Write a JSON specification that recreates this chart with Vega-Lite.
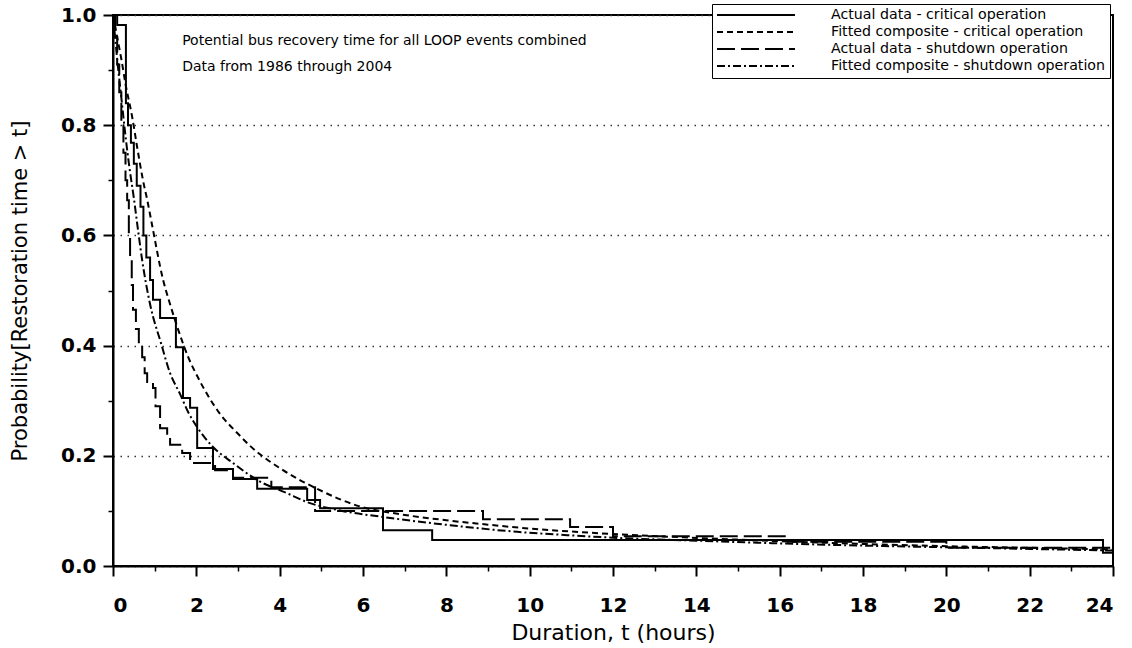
{
  "$schema": "https://vega.github.io/schema/vega-lite/v6.json",
  "width": 1000,
  "height": 551,
  "autosize": {"type": "none"},
  "padding": {"left": 113, "top": 15, "right": 19, "bottom": 82},
  "background": "white",
  "config": {
    "font": "DejaVu Sans",
    "view": {"stroke": "black", "strokeWidth": 2},
    "axis": {
      "domainColor": "black", "domainWidth": 2, "tickColor": "black", "tickWidth": 2,
      "labelColor": "black", "titleColor": "black", "labelFont": "DejaVu Sans", "titleFont": "DejaVu Sans"
    }
  },
  "datasets": {
    "actual": [
      {"series": "Actual data - critical operation", "t": 0, "p": 1.0},
      {"series": "Actual data - critical operation", "t": 0.1, "p": 0.982},
      {"series": "Actual data - critical operation", "t": 0.31, "p": 0.84},
      {"series": "Actual data - critical operation", "t": 0.36, "p": 0.80},
      {"series": "Actual data - critical operation", "t": 0.43, "p": 0.768},
      {"series": "Actual data - critical operation", "t": 0.5, "p": 0.73},
      {"series": "Actual data - critical operation", "t": 0.57, "p": 0.69},
      {"series": "Actual data - critical operation", "t": 0.66, "p": 0.652},
      {"series": "Actual data - critical operation", "t": 0.73, "p": 0.60},
      {"series": "Actual data - critical operation", "t": 0.8, "p": 0.56},
      {"series": "Actual data - critical operation", "t": 0.89, "p": 0.519},
      {"series": "Actual data - critical operation", "t": 0.96, "p": 0.483},
      {"series": "Actual data - critical operation", "t": 1.13, "p": 0.45},
      {"series": "Actual data - critical operation", "t": 1.51, "p": 0.397},
      {"series": "Actual data - critical operation", "t": 1.68, "p": 0.305},
      {"series": "Actual data - critical operation", "t": 1.85, "p": 0.287},
      {"series": "Actual data - critical operation", "t": 2.02, "p": 0.214},
      {"series": "Actual data - critical operation", "t": 2.4, "p": 0.176},
      {"series": "Actual data - critical operation", "t": 2.88, "p": 0.158},
      {"series": "Actual data - critical operation", "t": 3.46, "p": 0.14},
      {"series": "Actual data - critical operation", "t": 4.66, "p": 0.12},
      {"series": "Actual data - critical operation", "t": 4.97, "p": 0.105},
      {"series": "Actual data - critical operation", "t": 6.48, "p": 0.065},
      {"series": "Actual data - critical operation", "t": 7.66, "p": 0.047},
      {"series": "Actual data - critical operation", "t": 23.76, "p": 0.024},
      {"series": "Actual data - critical operation", "t": 24, "p": 0.024},
      {"series": "Actual data - shutdown operation", "t": 0, "p": 1.0},
      {"series": "Actual data - shutdown operation", "t": 0.05, "p": 0.96},
      {"series": "Actual data - shutdown operation", "t": 0.1, "p": 0.91},
      {"series": "Actual data - shutdown operation", "t": 0.15, "p": 0.86},
      {"series": "Actual data - shutdown operation", "t": 0.2, "p": 0.80},
      {"series": "Actual data - shutdown operation", "t": 0.25, "p": 0.75},
      {"series": "Actual data - shutdown operation", "t": 0.3, "p": 0.70},
      {"series": "Actual data - shutdown operation", "t": 0.34, "p": 0.664},
      {"series": "Actual data - shutdown operation", "t": 0.38, "p": 0.60},
      {"series": "Actual data - shutdown operation", "t": 0.41, "p": 0.555},
      {"series": "Actual data - shutdown operation", "t": 0.45, "p": 0.51},
      {"series": "Actual data - shutdown operation", "t": 0.48, "p": 0.465},
      {"series": "Actual data - shutdown operation", "t": 0.55, "p": 0.43},
      {"series": "Actual data - shutdown operation", "t": 0.62, "p": 0.40},
      {"series": "Actual data - shutdown operation", "t": 0.7, "p": 0.379},
      {"series": "Actual data - shutdown operation", "t": 0.76, "p": 0.35},
      {"series": "Actual data - shutdown operation", "t": 0.82, "p": 0.334},
      {"series": "Actual data - shutdown operation", "t": 0.96, "p": 0.323},
      {"series": "Actual data - shutdown operation", "t": 1.02, "p": 0.29},
      {"series": "Actual data - shutdown operation", "t": 1.13, "p": 0.25},
      {"series": "Actual data - shutdown operation", "t": 1.3, "p": 0.235},
      {"series": "Actual data - shutdown operation", "t": 1.37, "p": 0.22},
      {"series": "Actual data - shutdown operation", "t": 1.66, "p": 0.205},
      {"series": "Actual data - shutdown operation", "t": 1.85, "p": 0.187},
      {"series": "Actual data - shutdown operation", "t": 2.45, "p": 0.174},
      {"series": "Actual data - shutdown operation", "t": 2.88, "p": 0.16},
      {"series": "Actual data - shutdown operation", "t": 3.8, "p": 0.143},
      {"series": "Actual data - shutdown operation", "t": 4.85, "p": 0.10},
      {"series": "Actual data - shutdown operation", "t": 8.88, "p": 0.085},
      {"series": "Actual data - shutdown operation", "t": 10.97, "p": 0.071},
      {"series": "Actual data - shutdown operation", "t": 12.0, "p": 0.054},
      {"series": "Actual data - shutdown operation", "t": 16.2, "p": 0.044},
      {"series": "Actual data - shutdown operation", "t": 20.0, "p": 0.033},
      {"series": "Actual data - shutdown operation", "t": 24, "p": 0.033}
    ],
    "fitted": [
      {"series": "Fitted composite - critical operation", "t": 0, "p": 1.0},
      {"series": "Fitted composite - critical operation", "t": 0.1, "p": 0.96},
      {"series": "Fitted composite - critical operation", "t": 0.2, "p": 0.92},
      {"series": "Fitted composite - critical operation", "t": 0.3, "p": 0.875},
      {"series": "Fitted composite - critical operation", "t": 0.46, "p": 0.815},
      {"series": "Fitted composite - critical operation", "t": 0.58, "p": 0.76},
      {"series": "Fitted composite - critical operation", "t": 0.72, "p": 0.70},
      {"series": "Fitted composite - critical operation", "t": 0.82, "p": 0.665},
      {"series": "Fitted composite - critical operation", "t": 0.94, "p": 0.618},
      {"series": "Fitted composite - critical operation", "t": 1.2, "p": 0.52},
      {"series": "Fitted composite - critical operation", "t": 1.37, "p": 0.475},
      {"series": "Fitted composite - critical operation", "t": 1.56, "p": 0.43},
      {"series": "Fitted composite - critical operation", "t": 1.8, "p": 0.38},
      {"series": "Fitted composite - critical operation", "t": 2.04, "p": 0.342},
      {"series": "Fitted composite - critical operation", "t": 2.55, "p": 0.278},
      {"series": "Fitted composite - critical operation", "t": 3.0, "p": 0.24},
      {"series": "Fitted composite - critical operation", "t": 3.29, "p": 0.218},
      {"series": "Fitted composite - critical operation", "t": 4.08, "p": 0.174},
      {"series": "Fitted composite - critical operation", "t": 4.9, "p": 0.14},
      {"series": "Fitted composite - critical operation", "t": 5.93, "p": 0.108},
      {"series": "Fitted composite - critical operation", "t": 6.89, "p": 0.094},
      {"series": "Fitted composite - critical operation", "t": 8, "p": 0.083},
      {"series": "Fitted composite - critical operation", "t": 9, "p": 0.075},
      {"series": "Fitted composite - critical operation", "t": 10, "p": 0.068},
      {"series": "Fitted composite - critical operation", "t": 12, "p": 0.058},
      {"series": "Fitted composite - critical operation", "t": 14, "p": 0.051},
      {"series": "Fitted composite - critical operation", "t": 16, "p": 0.045},
      {"series": "Fitted composite - critical operation", "t": 18, "p": 0.040},
      {"series": "Fitted composite - critical operation", "t": 20, "p": 0.036},
      {"series": "Fitted composite - critical operation", "t": 22, "p": 0.033},
      {"series": "Fitted composite - critical operation", "t": 24, "p": 0.030},
      {"series": "Fitted composite - shutdown operation", "t": 0, "p": 1.0},
      {"series": "Fitted composite - shutdown operation", "t": 0.05, "p": 0.96},
      {"series": "Fitted composite - shutdown operation", "t": 0.1, "p": 0.92},
      {"series": "Fitted composite - shutdown operation", "t": 0.2, "p": 0.85},
      {"series": "Fitted composite - shutdown operation", "t": 0.3, "p": 0.78},
      {"series": "Fitted composite - shutdown operation", "t": 0.4, "p": 0.72},
      {"series": "Fitted composite - shutdown operation", "t": 0.5, "p": 0.668},
      {"series": "Fitted composite - shutdown operation", "t": 0.6, "p": 0.61},
      {"series": "Fitted composite - shutdown operation", "t": 0.7, "p": 0.555},
      {"series": "Fitted composite - shutdown operation", "t": 0.89, "p": 0.475},
      {"series": "Fitted composite - shutdown operation", "t": 1.15, "p": 0.405},
      {"series": "Fitted composite - shutdown operation", "t": 1.37, "p": 0.35},
      {"series": "Fitted composite - shutdown operation", "t": 1.61, "p": 0.312},
      {"series": "Fitted composite - shutdown operation", "t": 1.8, "p": 0.28},
      {"series": "Fitted composite - shutdown operation", "t": 2.02, "p": 0.252},
      {"series": "Fitted composite - shutdown operation", "t": 2.4, "p": 0.216},
      {"series": "Fitted composite - shutdown operation", "t": 2.88, "p": 0.187},
      {"series": "Fitted composite - shutdown operation", "t": 3.46, "p": 0.156},
      {"series": "Fitted composite - shutdown operation", "t": 4.18, "p": 0.132},
      {"series": "Fitted composite - shutdown operation", "t": 4.66, "p": 0.116},
      {"series": "Fitted composite - shutdown operation", "t": 5.5, "p": 0.10},
      {"series": "Fitted composite - shutdown operation", "t": 6.48, "p": 0.089},
      {"series": "Fitted composite - shutdown operation", "t": 8.09, "p": 0.074},
      {"series": "Fitted composite - shutdown operation", "t": 9.7, "p": 0.062},
      {"series": "Fitted composite - shutdown operation", "t": 10.9, "p": 0.056},
      {"series": "Fitted composite - shutdown operation", "t": 12.1, "p": 0.051},
      {"series": "Fitted composite - shutdown operation", "t": 14, "p": 0.046},
      {"series": "Fitted composite - shutdown operation", "t": 16, "p": 0.041},
      {"series": "Fitted composite - shutdown operation", "t": 18, "p": 0.037},
      {"series": "Fitted composite - shutdown operation", "t": 20, "p": 0.034},
      {"series": "Fitted composite - shutdown operation", "t": 22, "p": 0.031},
      {"series": "Fitted composite - shutdown operation", "t": 24, "p": 0.028}
    ],
    "notes": [
      {"t": 1.66, "p": 0.953, "label": "Potential bus recovery time for all LOOP events combined"},
      {"t": 1.66, "p": 0.905, "label": "Data from 1986 through 2004"}
    ]
  },
  "layer": [
    {
      "data": {"name": "actual"},
      "mark": {"type": "line", "interpolate": "step-after", "strokeWidth": 2, "color": "black"},
      "encoding": {
        "x": {
          "field": "t", "type": "quantitative",
          "scale": {"domain": [0, 24], "nice": false, "zero": false},
          "axis": {
            "values": [0, 2, 4, 6, 8, 10, 12, 14, 16, 18, 20, 22, 24],
            "title": "Duration, t (hours)", "titleFontSize": 22, "titleFontWeight": "normal", "titlePadding": 7,
            "labelFontSize": 20, "labelFontWeight": "bold", "labelPadding": 19, "tickSize": 10,
            "grid": false, "orient": "bottom"
          }
        },
        "y": {
          "field": "p", "type": "quantitative",
          "scale": {"domain": [0, 1], "nice": false},
          "axis": {
            "values": [0, 0.2, 0.4, 0.6, 0.8, 1.0], "format": ".1f",
            "title": "Probability[Restoration time > t]", "titleFontSize": 21, "titleFontWeight": "normal", "titlePadding": 30,
            "labelFontSize": 20, "labelFontWeight": "bold", "labelPadding": 7, "tickSize": 10,
            "grid": true, "gridDash": [1.5, 5.5], "gridColor": "#333333", "gridWidth": 1.3, "orient": "left"
          }
        },
        "strokeDash": {
          "field": "series", "type": "nominal",
          "scale": {
            "domain": ["Actual data - critical operation", "Fitted composite - critical operation", "Actual data - shutdown operation", "Fitted composite - shutdown operation"],
            "range": [[1, 0], [6, 4], [18, 6], [8, 3, 2, 3]]
          },
          "legend": {
            "title": null, "orient": "none", "legendX": 599, "legendY": -11,
            "symbolType": "stroke", "symbolSize": 6084, "symbolStrokeWidth": 2, "symbolStrokeColor": "black",
            "labelFontSize": 14.2, "labelFont": "DejaVu Sans", "labelColor": "black", "labelOffset": 35, "labelLimit": 400,
            "clipHeight": 14, "rowPadding": 2, "padding": 4,
            "strokeColor": "black", "fillColor": "white"
          }
        }
      }
    },
    {
      "data": {"name": "fitted"},
      "mark": {"type": "line", "interpolate": "monotone", "strokeWidth": 2, "color": "black"},
      "encoding": {
        "x": {"field": "t", "type": "quantitative", "axis": null},
        "y": {"field": "p", "type": "quantitative", "axis": null},
        "strokeDash": {"field": "series", "type": "nominal"}
      }
    },
    {
      "data": {"name": "notes"},
      "mark": {"type": "text", "align": "left", "baseline": "middle", "fontSize": 14, "font": "DejaVu Sans", "color": "black"},
      "encoding": {
        "x": {
          "field": "t", "type": "quantitative",
          "axis": {"values": [1, 3, 5, 7, 9, 11, 13, 15, 17, 19, 21, 23], "labels": false, "domain": false, "grid": false, "tickSize": 5, "tickWidth": 1.5, "title": null, "orient": "bottom"}
        },
        "y": {
          "field": "p", "type": "quantitative",
          "axis": {"values": [0.1, 0.3, 0.5, 0.7, 0.9], "labels": false, "domain": false, "grid": false, "tickSize": 5, "tickWidth": 1.5, "title": null, "orient": "left"}
        },
        "text": {"field": "label"}
      }
    }
  ],
  "resolve": {"axis": {"x": "independent", "y": "independent"}}
}
